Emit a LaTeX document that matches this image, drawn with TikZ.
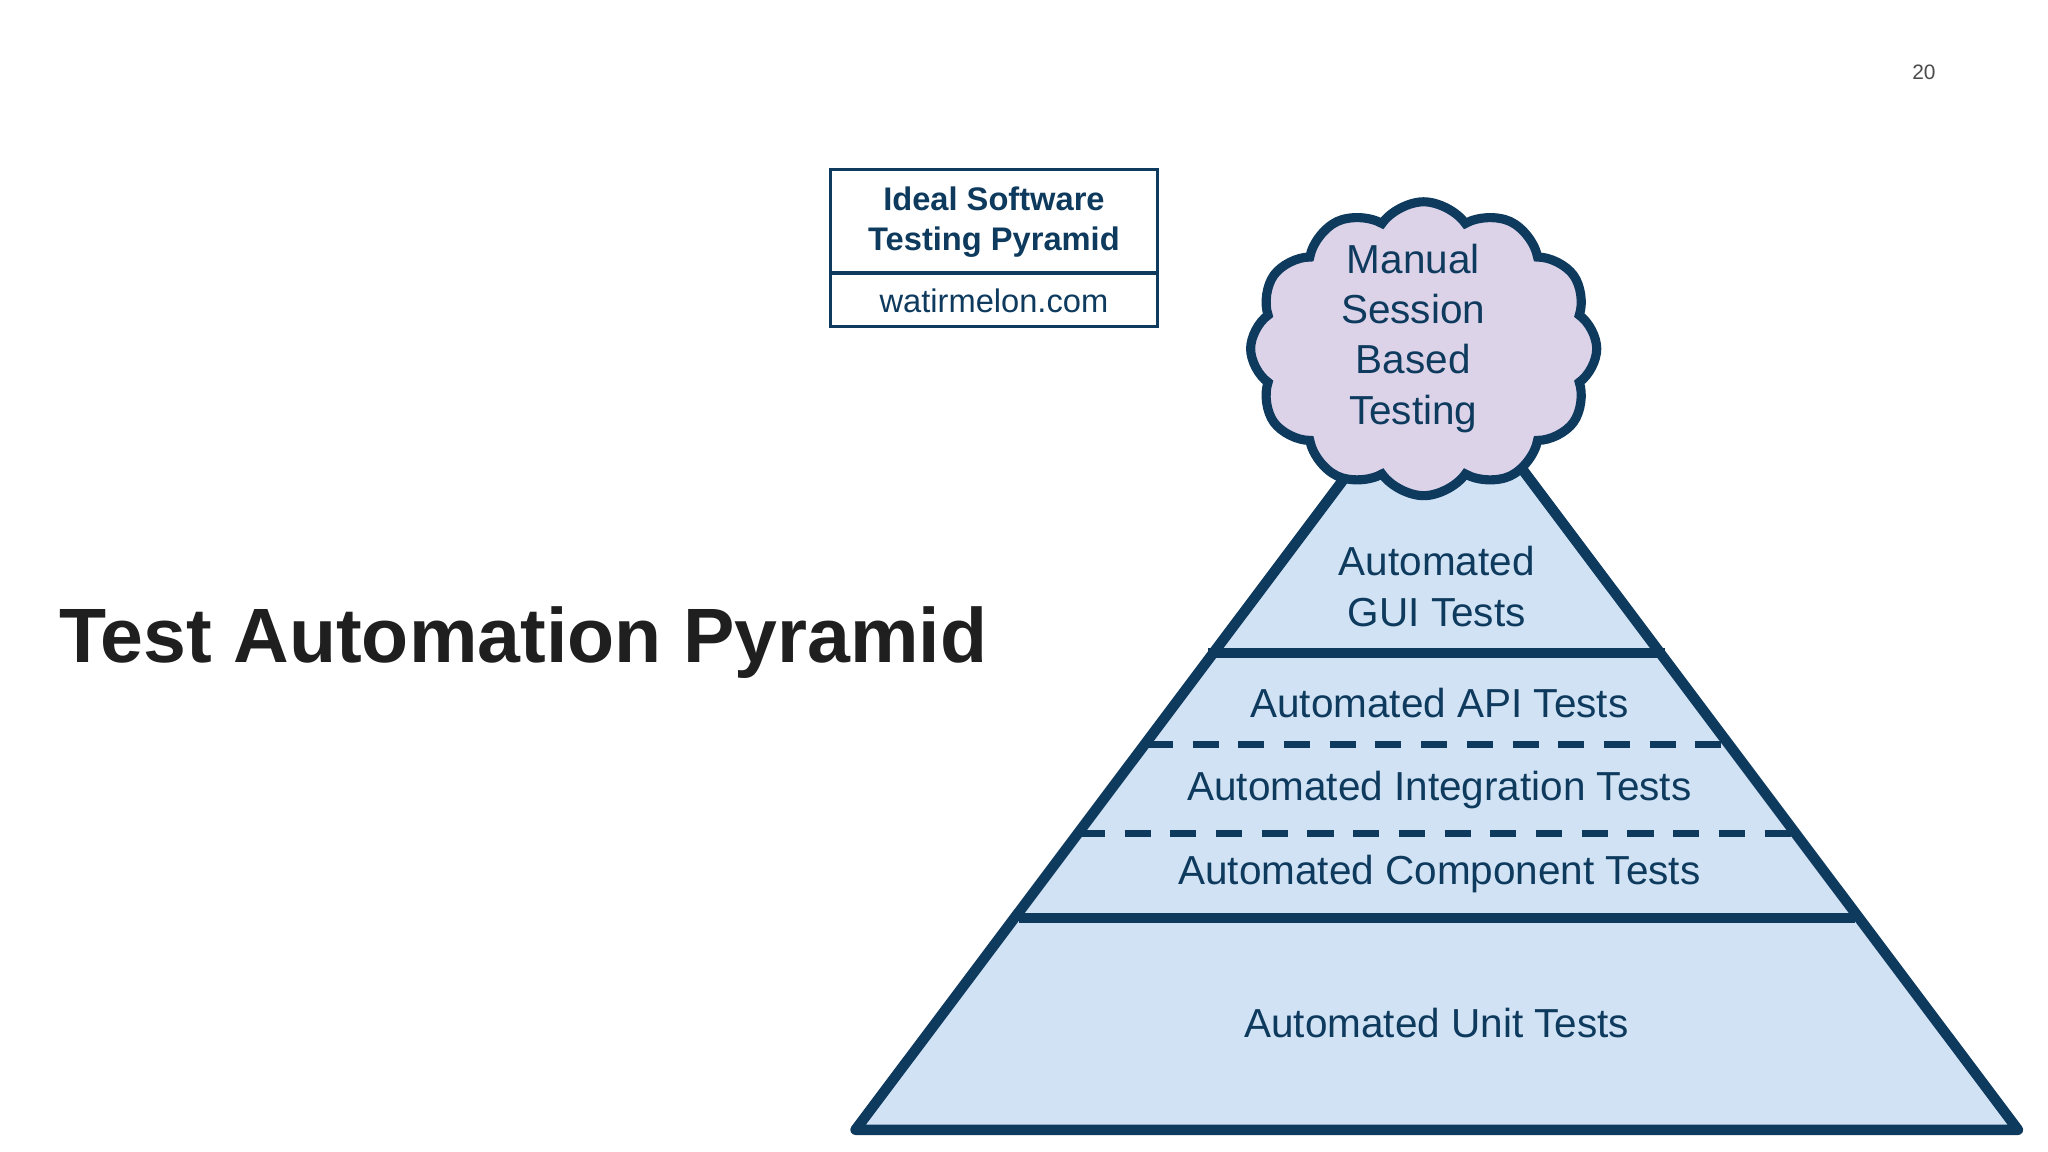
\documentclass[tikz,border=0pt]{standalone}
\usepackage{fontspec}
\setmainfont{Liberation Sans}
\usetikzlibrary{shapes.symbols}
\definecolor{navy}{HTML}{0E3A5E}
\definecolor{pfill}{HTML}{D0E2F3}
\definecolor{cfill}{HTML}{DDD3E8}
\tikzset{lbl/.style={text=navy,font=\fontsize{31}{35}\selectfont,align=center},
 thick line/.style={navy,line width=8pt},
 dash line/.style={navy,line width=5pt,dash pattern=on 20pt off 15pt}}
\begin{document}
\begin{tikzpicture}[x=1pt,y=-1pt]
\useasboundingbox (0,0) rectangle (1568,882);
\fill[white] (0,0) rectangle (1568,882);
\node[font=\fontsize{16}{18}\selectfont,text=black!70] (pg) at (1473,55) {20};
\node[font=\bfseries\fontsize{59}{66}\selectfont,text=black!88,anchor=west] (title) at (42,492) {Test Automation Pyramid};
% pyramid
\filldraw[fill=pfill,draw=navy,line width=8pt,line join=round] (655,865) -- (1100,272) -- (1545,865) -- cycle;
\draw[thick line] (925,500) -- (1275,500);
\draw[thick line] (780,703) -- (1420,703);
\draw[dash line] (878,570) -- (1325,570);
\draw[dash line] (826,638) -- (1374,638);
% cloud
\node[cloud,cloud puffs=12,cloud puff arc=110,aspect=1.05,draw=navy,fill=cfill,line width=7pt,minimum width=265pt,minimum height=225pt] (cl) at (1090,267) {};
\node[lbl,font=\fontsize{31}{38.5}\selectfont] (man) at (1082,259) {Manual\\Session\\Based\\Testing};
\node[lbl,font=\fontsize{31}{38.5}\selectfont] (gui) at (1100,449) {Automated\\GUI Tests};
\node[lbl] (api) at (1102,538) {Automated API Tests};
\node[lbl] (int) at (1102,605) {Automated Integration Tests};
\node[lbl] (comp) at (1102,669) {Automated Component Tests};
\node[lbl] (unit) at (1100,783) {Automated Unit Tests};
% box
\draw[navy,line width=2.5pt] (636,130) rectangle (886,250);
\draw[navy,line width=2.5pt] (636,209) -- (886,209);
\node[text=navy,font=\bfseries\fontsize{25}{31}\selectfont,align=center] (ideal) at (761,170) {Ideal Software\\Testing Pyramid};
\node[text=navy,font=\fontsize{25}{30}\selectfont] (wm) at (761,230) {watirmelon.com};
\end{tikzpicture}
\end{document}
